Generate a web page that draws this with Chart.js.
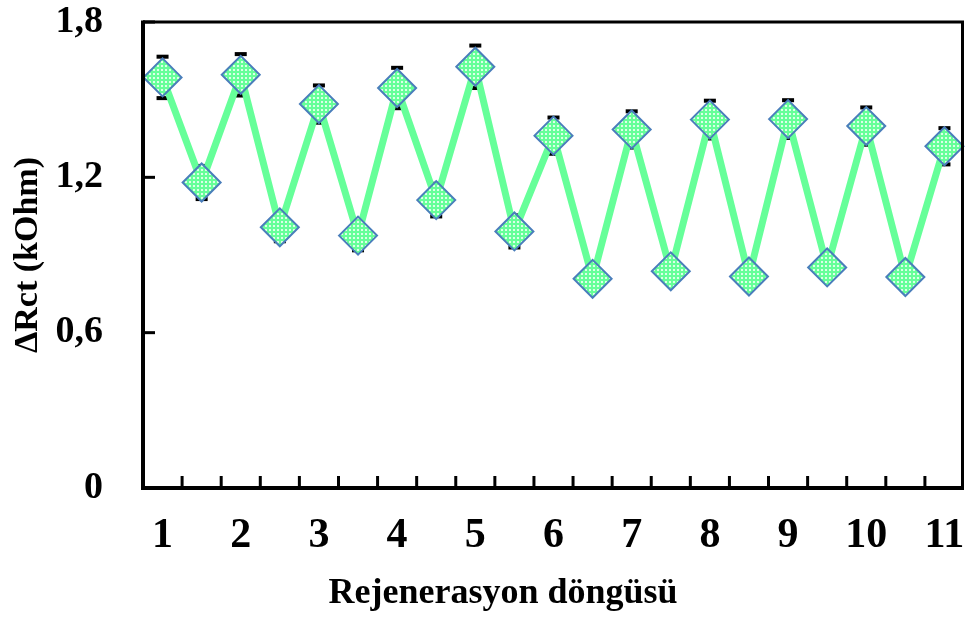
<!DOCTYPE html>
<html>
<head>
<meta charset="utf-8">
<script src="https://cdn.jsdelivr.net/npm/chart.js@4.4.1/dist/chart.umd.min.js"></script>
<style>
  html, body { margin: 0; padding: 0; background: #fff; }
  #c { display: block; }
</style>
</head>
<body>
<canvas id="c" width="969" height="627"></canvas>
<script>
// Regeneration cycles (half steps are the measurements between full cycles)
const cycles = [1, 1.5, 2, 2.5, 3, 3.5, 4, 4.5, 5, 5.5, 6, 6.5, 7, 7.5, 8, 8.5, 9, 9.5, 10, 10.5, 11];
// ΔRct in kOhm
const deltaRct = [1.586, 1.180, 1.596, 1.007, 1.483, 0.975, 1.545, 1.112, 1.627, 0.991, 1.361,
                  0.808, 1.385, 0.837, 1.423, 0.817, 1.425, 0.852, 1.398, 0.815, 1.320];
// standard deviation of each point
const errors = [0.080, 0.064, 0.080, 0.054, 0.072, 0.057, 0.078, 0.063, 0.082, 0.062, 0.070,
                0.040, 0.070, 0.040, 0.073, 0.040, 0.073, 0.040, 0.072, 0.040, 0.070];
const yTicks = [0, 0.6, 1.2, 1.8];
const xTitle = 'Rejenerasyon döngüsü';
const yTitle = 'ΔRct (kOhm)';

const FONT = '"Liberation Serif", "Times New Roman", serif';

// light green fill with a white dot grid for the markers
function dotPattern(ctx) {
  const p = document.createElement('canvas');
  p.width = 4; p.height = 4;
  const g = p.getContext('2d');
  g.fillStyle = '#66ff99';
  g.fillRect(0, 0, 4, 4);
  g.fillStyle = '#dcffe8';
  g.fillRect(1, 1, 2, 2);
  return ctx.createPattern(p, 'repeat');
}

const decorations = {
  id: 'decorations',
  beforeDatasetsDraw(chart) {
    const { ctx, scales: { x, y } } = chart;
    ctx.save();
    ctx.fillStyle = '#000';
    ctx.strokeStyle = '#000';
    ctx.lineWidth = 2;
    deltaRct.forEach((v, i) => {
      const px = x.getPixelForValue(i);
      const top = y.getPixelForValue(v + errors[i]);
      const bot = y.getPixelForValue(v - errors[i]);
      ctx.beginPath();
      ctx.moveTo(px, top);
      ctx.lineTo(px, bot);
      ctx.stroke();
      ctx.fillRect(px - 6, top - 2, 12, 4);
      ctx.fillRect(px - 6, bot - 2, 12, 4);
    });
    ctx.restore();
  },
  afterDraw(chart) {
    const { ctx, chartArea: a, scales: { x, y } } = chart;
    ctx.save();
    ctx.strokeStyle = '#000';
    ctx.lineWidth = 3;
    // inward tick marks
    yTicks.forEach(v => {
      const py = y.getPixelForValue(v);
      ctx.beginPath();
      ctx.moveTo(a.left, py);
      ctx.lineTo(a.left + 12, py);
      ctx.stroke();
    });
    for (let i = 0; i < cycles.length - 1; i++) {
      const px = (x.getPixelForValue(i) + x.getPixelForValue(i + 1)) / 2;
      ctx.beginPath();
      ctx.moveTo(px, a.bottom);
      ctx.lineTo(px, a.bottom - 12);
      ctx.stroke();
    }
    // frame
    ctx.lineWidth = 3;
    ctx.beginPath();
    ctx.moveTo(a.left, a.top);
    ctx.lineTo(a.right - 1.5, a.top);
    ctx.lineTo(a.right - 1.5, a.bottom);
    ctx.stroke();
    ctx.lineWidth = 4;
    ctx.beginPath();
    ctx.moveTo(a.left, a.top - 1.5);
    ctx.lineTo(a.left, a.bottom);
    ctx.lineTo(a.right, a.bottom);
    ctx.stroke();
    // x axis title
    ctx.fillStyle = '#000';
    ctx.font = 'bold 36px ' + FONT;
    ctx.textAlign = 'center';
    ctx.textBaseline = 'alphabetic';
    ctx.fillText(xTitle, 503, 603);
    ctx.restore();
  }
};

const canvas = document.getElementById('c');
const ctx = canvas.getContext('2d');

new Chart(ctx, {
  type: 'line',
  data: {
    labels: cycles.map(String),
    datasets: [{
      data: deltaRct,
      borderColor: '#66ff99',
      borderWidth: 7,
      tension: 0,
      pointStyle: 'rectRot',
      pointRadius: 19,
      pointHoverRadius: 19,
      pointBorderColor: '#4a7ebb',
      pointBorderWidth: 2,
      pointBackgroundColor: dotPattern(ctx),
      clip: false
    }]
  },
  options: {
    responsive: false,
    animation: false,
    devicePixelRatio: 1,
    layout: { autoPadding: false, padding: { top: 22, right: 5, left: 0, bottom: 0 } },
    plugins: { legend: { display: false }, tooltip: { enabled: false } },
    scales: {
      x: {
        type: 'category',
        offset: true,
        grid: { display: false, drawTicks: false },
        border: { display: false },
        afterFit: s => { s.height = 139; s.paddingLeft = 0; s.paddingRight = 0; },
        ticks: {
          autoSkip: false,
          maxRotation: 0,
          minRotation: 0,
          padding: 23,
          color: '#000',
          font: { family: FONT, size: 42, weight: 'bold' },
          callback: (val, idx) => Number.isInteger(cycles[idx]) ? String(cycles[idx]) : ''
        }
      },
      y: {
        min: 0,
        max: 1.8,
        afterFit: s => { s.width = 143; s.paddingTop = 0; s.paddingBottom = 0; },
        afterBuildTicks: s => { s.ticks = yTicks.map(v => ({ value: v })); },
        grid: { display: false, drawTicks: false },
        border: { display: false },
        ticks: {
          padding: 40,
          color: '#000',
          font: { family: FONT, size: 38, weight: 'bold' },
          callback: v => v === 0 ? '0' : v.toFixed(1).replace('.', ',')
        },
        title: {
          display: true,
          text: yTitle,
          color: '#000',
          font: { family: FONT, size: 34, weight: 'bold' },
          padding: { top: 8, bottom: 0 }
        }
      }
    }
  },
  plugins: [decorations]
});
</script>
</body>
</html>
